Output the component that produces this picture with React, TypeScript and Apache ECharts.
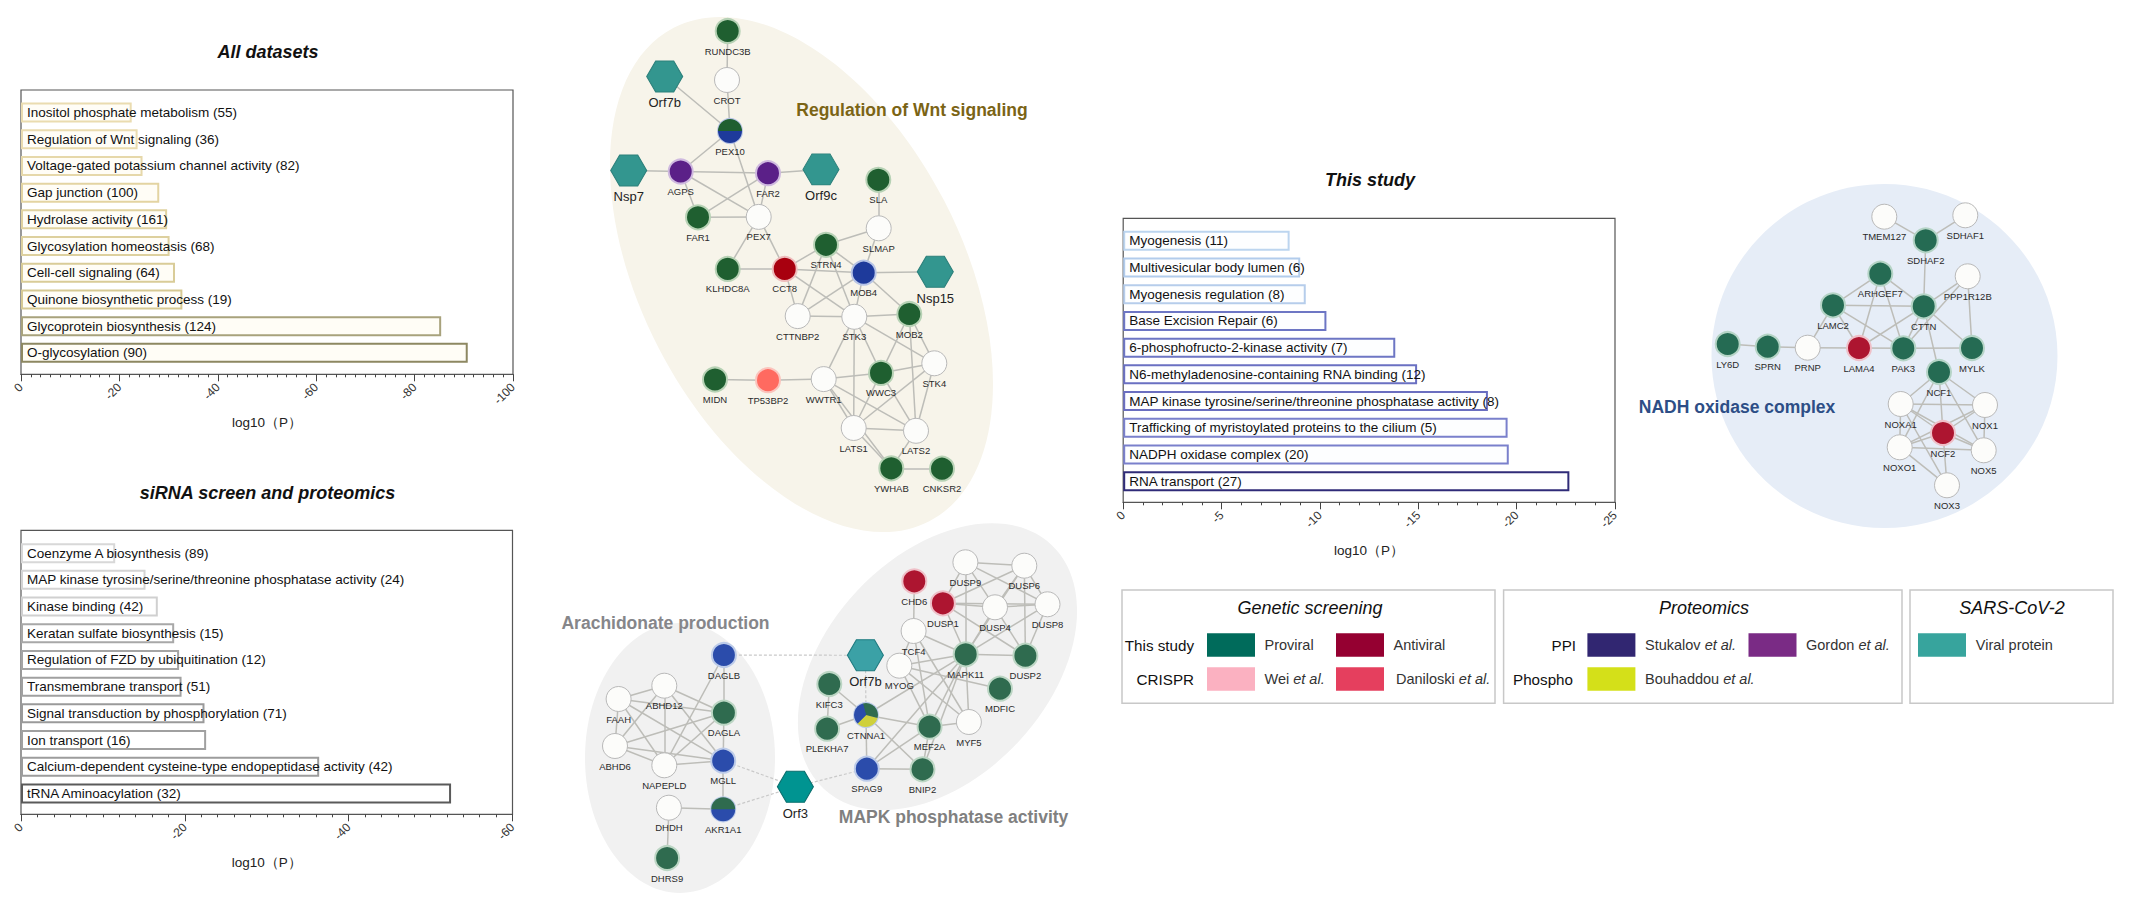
import React, { useEffect, useRef } from "react";
import * as echarts from "echarts";

const FONT = "'Liberation Sans', Arial, sans-serif";

const allCategories = ["Inositol phosphate metabolism (55)", "Regulation of Wnt signaling (36)", "Voltage-gated potassium channel activity (82)", "Gap junction (100)", "Hydrolase activity (161)", "Glycosylation homeostasis (68)", "Cell-cell signaling (64)", "Quinone biosynthetic process (19)", "Glycoprotein biosynthesis (124)", "O-glycosylation (90)"];
const allValues = [-22.5, -23.7, -24.7, -28.1, -29.7, -30.2, -31.3, -32.8, -85.4, -90.8];
const sirnaCategories = ["Coenzyme A biosynthesis (89)", "MAP kinase tyrosine/serine/threonine phosphatase activity (24)", "Kinase binding (42)", "Keratan sulfate biosynthesis (15)", "Regulation of FZD by ubiquitination (12)", "Transmembrane transport (51)", "Signal transduction by phosphorylation (71)", "Ion transport (16)", "Calcium-dependent cysteine-type endopeptidase activity (42)", "tRNA Aminoacylation (32)"];
const sirnaValues = [-11.5, -15.2, -16.7, -18.7, -19.3, -19.6, -22.4, -22.6, -36.4, -52.5];
const studyCategories = ["Myogenesis (11)", "Multivesicular body lumen (6)", "Myogenesis regulation (8)", "Base Excision Repair (6)", "6-phosphofructo-2-kinase activity (7)", "N6-methyladenosine-containing RNA binding (12)", "MAP kinase tyrosine/serine/threonine phosphatase activity (8)", "Trafficking of myristoylated proteins to the cilium (5)", "NADPH oxidase complex (20)", "RNA transport (27)"];
const studyValues = [-8.46, -9.0, -9.28, -10.33, -13.83, -14.94, -18.54, -19.54, -19.6, -22.68];

const allBorders = ["#eadcb0", "#eadcb0", "#e6d8aa", "#e3d4a2", "#e0d2a0", "#ddd09e", "#d9cc98", "#d6c994", "#a8a27c", "#8d8862"];
const sirnaBorders = ["#d8d8d8", "#d4d4d4", "#d0d0d0", "#a8a8a8", "#a4a4a4", "#a0a0a0", "#9a9a9a", "#a0a0a0", "#9c9c9c", "#5a5a5a"];
const studyBorders = ["#bcd5ef", "#b2ccec", "#b6cdeb", "#6d76c4", "#6d76c4", "#6a70c2", "#6a6ec0", "#7a80cc", "#7a80cc", "#2f2b78"];

type Node = [string, number, number, string];

const wntNodes: Node[] = [
  ["RUNDC3B", 727.7, 31, "green"], ["CROT", 727, 80, "none"], ["PEX10", 730, 131, "mixBG"], ["Orf7b", 664.7, 76.5, "viral"], ["Nsp7", 628.7, 170.5, "viral"],
  ["AGPS", 680.7, 171.5, "purple"], ["FAR2", 768, 173.2, "purple"], ["Orf9c", 821, 169.4, "viral"], ["SLA", 878.3, 179.8, "green"], ["FAR1", 698, 217.3, "green"],
  ["PEX7", 758.7, 216.9, "none"], ["SLMAP", 878.7, 228.3, "none"], ["STRN4", 826, 244.8, "green"], ["KLHDC8A", 727.7, 268.9, "green"], ["CCT8", 784.7, 268.9, "darkred"],
  ["MOB4", 863.7, 272.7, "blue"], ["Nsp15", 935.3, 271.7, "viral"], ["CTTNBP2", 797.7, 316.1, "none"], ["STK3", 854.3, 316.8, "none"], ["MOB2", 909.3, 314, "green"],
  ["STK4", 934.3, 363.3, "none"], ["WWC3", 881, 372.9, "green"], ["WWTR1", 823.7, 379.1, "none"], ["TP53BP2", 768, 380.2, "salmon"], ["MIDN", 715, 379.5, "green"],
  ["LATS1", 853.7, 428, "none"], ["LATS2", 916, 430.8, "none"], ["YWHAB", 891.3, 468.3, "green"], ["CNKSR2", 942, 468.7, "green"],
];
const wntEdges = ["RUNDC3B-CROT", "CROT-PEX10", "Orf7b-PEX10", "PEX10-AGPS", "PEX10-PEX7", "Nsp7-AGPS", "AGPS-FAR2", "AGPS-FAR1", "AGPS-PEX7", "FAR2-Orf9c", "FAR2-FAR1", "FAR2-PEX7", "FAR1-PEX7", "PEX7-KLHDC8A", "PEX7-CCT8", "SLA-SLMAP", "SLMAP-STRN4", "SLMAP-MOB4", "STRN4-CCT8", "STRN4-MOB4", "STRN4-CTTNBP2", "STRN4-STK3", "KLHDC8A-CCT8", "CCT8-MOB4", "CCT8-CTTNBP2", "CCT8-STK3", "MOB4-Nsp15", "MOB4-CTTNBP2", "MOB4-STK3", "MOB4-MOB2", "CTTNBP2-STK3", "STK3-MOB2", "STK3-STK4", "STK3-WWC3", "STK3-WWTR1", "STK3-LATS1", "MOB2-WWC3", "MOB2-STK4", "MOB2-LATS2", "STK4-WWC3", "STK4-LATS1", "STK4-LATS2", "WWC3-WWTR1", "WWC3-LATS1", "WWC3-LATS2", "WWTR1-TP53BP2", "TP53BP2-MIDN", "WWTR1-LATS1", "WWTR1-LATS2", "WWTR1-YWHAB", "LATS1-LATS2", "LATS1-YWHAB", "LATS2-YWHAB", "YWHAB-CNKSR2"];

const lowerNodes: Node[] = [
  ["DAGLB", 723.9, 655, "blue2"], ["DAGLA", 723.9, 712.7, "green2"], ["MGLL", 723.2, 760.7, "blue2"], ["AKR1A1", 723.2, 809.3, "mixBG2"], ["DHDH", 668.9, 807.7, "none"],
  ["DHRS9", 667.1, 858, "green2"], ["NAPEPLD", 664.3, 765.3, "none"], ["ABHD12", 664.3, 685.7, "none"], ["FAAH", 618.6, 699, "none"], ["ABHD6", 615, 746, "none"],
  ["Orf3", 795.4, 786.7, "viralB"], ["Orf7b", 865.4, 655.3, "viralC"], ["KIFC3", 829.3, 684, "green2"], ["PLEKHA7", 827.1, 728.7, "green2"], ["CTNNA1", 866, 715, "mixTri"],
  ["SPAG9", 866.8, 768.7, "blue2"], ["BNIP2", 922.5, 769.3, "green2"], ["MEF2A", 929.6, 726.7, "green2"], ["MYF5", 968.9, 722, "none"], ["MDFIC", 1000, 688.7, "green2"],
  ["MYOG", 899.3, 665.7, "none"], ["TCF4", 913.6, 631, "none"], ["MAPK11", 965.7, 654.3, "green2"], ["DUSP2", 1025.4, 655.7, "green2"], ["CHD6", 914.3, 581.3, "red2"],
  ["DUSP1", 942.9, 603.3, "red2"], ["DUSP9", 965.4, 562.3, "none"], ["DUSP6", 1024.3, 565.7, "none"], ["DUSP4", 995, 607.3, "none"], ["DUSP8", 1047.5, 604.3, "none"],
];
const lowerDashedEdges = ["DAGLB-Orf7b", "Orf7b-CTNNA1", "MGLL-Orf3", "AKR1A1-Orf3", "Orf3-SPAG9"];
const lowerEdges = ["DAGLB-DAGLA", "DAGLB-NAPEPLD", "DAGLA-MGLL", "MGLL-AKR1A1", "AKR1A1-DHDH", "DHDH-DHRS9", "DAGLA-ABHD12", "DAGLA-FAAH", "DAGLA-ABHD6", "DAGLA-NAPEPLD", "MGLL-ABHD12", "MGLL-ABHD6", "MGLL-NAPEPLD", "MGLL-FAAH", "ABHD12-FAAH", "ABHD12-ABHD6", "ABHD12-NAPEPLD", "FAAH-ABHD6", "FAAH-NAPEPLD", "ABHD6-NAPEPLD", "KIFC3-PLEKHA7", "KIFC3-CTNNA1", "PLEKHA7-CTNNA1", "CTNNA1-SPAG9", "CTNNA1-MEF2A", "CTNNA1-BNIP2", "CTNNA1-MAPK11", "SPAG9-BNIP2", "SPAG9-MAPK11", "SPAG9-MEF2A", "BNIP2-MEF2A", "BNIP2-MAPK11", "MEF2A-MAPK11", "MEF2A-MYF5", "MEF2A-TCF4", "MEF2A-MYOG", "MYOG-TCF4", "MYOG-MAPK11", "MYOG-MYF5", "MYOG-MDFIC", "TCF4-MAPK11", "TCF4-MYF5", "CHD6-TCF4", "MAPK11-MYF5", "MAPK11-DUSP2", "MAPK11-DUSP1", "MAPK11-DUSP9", "MAPK11-DUSP4", "MAPK11-DUSP8", "MAPK11-DUSP6", "DUSP1-DUSP9", "DUSP1-DUSP6", "DUSP1-DUSP4", "DUSP1-DUSP8", "DUSP1-DUSP2", "DUSP9-DUSP6", "DUSP9-DUSP4", "DUSP9-DUSP8", "DUSP6-DUSP4", "DUSP6-DUSP8", "DUSP6-DUSP2", "DUSP4-DUSP8", "DUSP4-DUSP2", "DUSP8-DUSP2"];

const nadhNodes: Node[] = [
  ["TMEM127", 1884.3, 216.7, "none"], ["SDHAF1", 1965.3, 215.3, "none"], ["SDHAF2", 1925.7, 240.3, "green3"], ["ARHGEF7", 1880.3, 273.7, "green3"], ["PPP1R12B", 1967.7, 276.3, "none"],
  ["LAMC2", 1833, 305.3, "green3"], ["CTTN", 1923.7, 306.3, "green3"], ["LY6D", 1727.7, 344, "green3"], ["SPRN", 1767.7, 346.7, "green3"], ["PRNP", 1807.7, 347.7, "none"],
  ["LAMA4", 1859, 348, "red2"], ["PAK3", 1903.3, 348.3, "green3"], ["MYLK", 1972, 348, "green3"], ["NCF1", 1939, 372, "green3"], ["NOXA1", 1900.7, 404, "none"],
  ["NOX1", 1985, 405, "none"], ["NCF2", 1943, 433, "red2"], ["NOXO1", 1899.7, 447.3, "none"], ["NOX5", 1983.7, 450.3, "none"], ["NOX3", 1947, 485.3, "none"],
];
const nadhEdges = ["TMEM127-SDHAF2", "SDHAF1-SDHAF2", "SDHAF2-CTTN", "ARHGEF7-LAMC2", "ARHGEF7-CTTN", "ARHGEF7-LAMA4", "ARHGEF7-PAK3", "LAMC2-CTTN", "LAMC2-PRNP", "LAMC2-LAMA4", "LAMC2-PAK3", "CTTN-PPP1R12B", "PPP1R12B-MYLK", "PPP1R12B-PAK3", "CTTN-LAMA4", "CTTN-PAK3", "CTTN-MYLK", "CTTN-NCF1", "LY6D-SPRN", "SPRN-PRNP", "PRNP-LAMA4", "LAMA4-PAK3", "PAK3-MYLK", "NCF1-NOXA1", "NCF1-NOX1", "NCF1-NCF2", "NCF1-NOXO1", "NCF1-NOX5", "NOXA1-NOX1", "NOXA1-NCF2", "NOXA1-NOXO1", "NOXA1-NOX5", "NOXA1-NOX3", "NOX1-NCF2", "NOX1-NOXO1", "NOX1-NOX5", "NCF2-NOXO1", "NCF2-NOX5", "NCF2-NOX3", "NOXO1-NOX5", "NOXO1-NOX3"];

// Pie slices of the nodes that carry several datasets (clockwise from the start angle).
const pex10Slices: [string, number][] = [["blue", 1], ["green", 1]];
const akr1a1Slices: [string, number][] = [["blue2", 1], ["green2", 1]];
const ctnna1Slices: [string, number][] = [["green2", 1], ["yellow", 1], ["blue2", 1]];

const KIND_STYLE: Record<string, { fill: string; ring: string }> = {
  none: { fill: "#fcfcfa", ring: "#b9b9b9" },
  green: { fill: "#1f5f30", ring: "#b7d2b5" },
  green2: { fill: "#2f6b4f", ring: "#bcd6c4" },
  green3: { fill: "#256b53", ring: "#b5d4c6" },
  blue: { fill: "#1e3a9b", ring: "#b7c4e6" },
  blue2: { fill: "#2b4cab", ring: "#bccbe9" },
  purple: { fill: "#5b2088", ring: "#cfb9df" },
  darkred: { fill: "#a8000f", ring: "#eebcbc" },
  red2: { fill: "#ad1530", ring: "#efc0c8" },
  salmon: { fill: "#ff6a60", ring: "#fbc4bd" },
  yellow: { fill: "#cfd03b", ring: "#cfd03b" },
  mixBG: { fill: "#1e3a9b", ring: "#b7c4e6" },
  mixBG2: { fill: "#2b4cab", ring: "#bccbe9" },
  mixTri: { fill: "#2b4cab", ring: "#bccbe9" },
  viral: { fill: "#33968f", ring: "#2c807b" },
  viralB: { fill: "#009491", ring: "#0a6f6e" },
  viralC: { fill: "#3ba1a6", ring: "#1f7b80" },
};

const HEX = "path://M-1,0 L-0.5,-0.866 L0.5,-0.866 L1,0 L0.5,0.866 L-0.5,0.866 Z";

function graphData(nodes: Node[]) {
  return nodes.map(([name, x, y, kind]) => {
    const s = KIND_STYLE[kind];
    const hex = kind.startsWith("viral");
    return {
      name,
      value: [x, y],
      symbol: hex ? HEX : "circle",
      symbolSize: hex ? [36, 31] : kind === "none" ? 25 : 24,
      itemStyle: { color: s.fill, borderColor: s.ring, borderWidth: hex ? 1 : kind === "none" ? 1 : 2 },
      label: hex ? { fontSize: 13, distance: 4, color: "#222" } : undefined,
    };
  });
}

const graphLinks = (edges: string[], dashed = false) =>
  edges.map((e) => {
    const [source, target] = e.split("-");
    return dashed
      ? { source, target, lineStyle: { type: [3, 2] as any, color: "#c9c9c9", width: 1.2 } }
      : { source, target };
  });

function networkSeries(nodes: Node[], links: any[], canvas: number) {
  return {
    type: "graph",
    coordinateSystem: "cartesian2d",
    xAxisIndex: canvas,
    yAxisIndex: canvas,
    layout: "none",
    roam: false,
    silent: true,
    data: graphData(nodes),
    links,
    lineStyle: { color: "#bdbdb8", width: 1.5, opacity: 1, curveness: 0 },
    label: { show: true, position: "bottom", distance: 2, fontSize: 9.5, fontFamily: FONT, color: "#2a2a2a" },
  };
}

function nodePie(nodes: Node[], name: string, slices: [string, number][], startAngle: number) {
  const n = nodes.find((d) => d[0] === name)!;
  return {
    type: "pie",
    silent: true,
    z: 3,
    center: [n[1], n[2]],
    radius: [0, 12],
    startAngle,
    clockwise: true,
    label: { show: false },
    labelLine: { show: false },
    data: slices.map(([kind, v]) => ({ name: kind, value: v, itemStyle: { color: KIND_STYLE[kind].fill } })),
  };
}

const panels = [
  { title: "All datasets", tx: 268, ty: 52.3, l: 21, r: 513, t: 90, b: 374.3, bt: 99.2, cats: allCategories, vals: allValues, borders: allBorders, fill: "#fffdf6", min: -100, step: 20, minor: 10 },
  { title: "siRNA screen and proteomics", tx: 267.5, ty: 492.7, l: 21, r: 512.5, t: 530.3, b: 814.3, bt: 539.8, cats: sirnaCategories, vals: sirnaValues, borders: sirnaBorders, fill: "#ffffff", min: -60, step: 20, minor: 10 },
  { title: "This study", tx: 1370, ty: 180, l: 1123.2, r: 1615, t: 218.3, b: 502.3, bt: 227.5, cats: studyCategories, vals: studyValues, borders: studyBorders, fill: "#fdfeff", min: -25, step: 5, minor: 5 },
];

const ellipses = [
  { x: 801.5, y: 274.5, rx: 277.8, ry: 160.6, deg: -62.6, fill: "#f7f4ea" },
  { x: 680, y: 758, rx: 95, ry: 135, deg: 0, fill: "#f1f1f1" },
  { x: 937.5, y: 666.7, rx: 166.9, ry: 110.5, deg: 47, fill: "#f1f1f1" },
  { x: 1884.5, y: 356, rx: 173, ry: 172, deg: 0, fill: "#e6edf7" },
];

const clusterLabels = [
  { text: "Regulation of Wnt signaling", x: 912, y: 109.5, fill: "#7b6415" },
  { text: "Arachidonate production", x: 665.5, y: 622.7, fill: "#86868a" },
  { text: "MAPK phosphatase activity", x: 953.6, y: 817.3, fill: "#808080" },
  { text: "NADH oxidase complex", x: 1737, y: 407, fill: "#2d4e86" },
];

const legendBoxes = [
  { x: 1122, w: 373, title: "Genetic screening", cx: 1310 },
  { x: 1503.6, w: 398.4, title: "Proteomics", cx: 1704 },
  { x: 1910, w: 203, title: "SARS-CoV-2", cx: 2012 },
];
const ROW1 = 645;
const ROW2 = 679;
const legendHeads = [
  { t: "This study", x: 1194, y: ROW1 }, { t: "CRISPR", x: 1194, y: ROW2 },
  { t: "PPI", x: 1576, y: ROW1 }, { t: "Phospho", x: 1573, y: ROW2 },
];
const legendItems = [
  { name: "Proviral", etal: false, color: "#006b5b", sx: 1207, tx: 1264.5, y: ROW1 },
  { name: "Antiviral", etal: false, color: "#950031", sx: 1336, tx: 1393.6, y: ROW1 },
  { name: "Wei", etal: true, color: "#fbb1c1", sx: 1207, tx: 1264.5, y: ROW2 },
  { name: "Daniloski", etal: true, color: "#e53f5e", sx: 1336, tx: 1396, y: ROW2 },
  { name: "Stukalov", etal: true, color: "#312671", sx: 1587.4, tx: 1645, y: ROW1 },
  { name: "Gordon", etal: true, color: "#7a2b85", sx: 1748.5, tx: 1806, y: ROW1 },
  { name: "Bouhaddou", etal: true, color: "#d4e019", sx: 1587.4, tx: 1645, y: ROW2 },
  { name: "Viral protein", etal: false, color: "#37a49d", sx: 1918, tx: 1975.8, y: ROW1 },
];

function buildOption() {
  const W = 2137;
  const H = 897;
  const grid: any[] = [];
  const xAxis: any[] = [];
  const yAxis: any[] = [];
  const series: any[] = [];

  panels.forEach((p) => {
    grid.push({ left: p.l, top: p.t, width: p.r - p.l, height: p.b - p.t, show: true, borderColor: "#555", borderWidth: 1.2, backgroundColor: "transparent" });
    xAxis.push({
      gridIndex: grid.length - 1, type: "value", inverse: true, min: p.min, max: 0, interval: p.step, position: "bottom",
      name: "log10（P）", nameLocation: "middle", nameGap: 41,
      nameTextStyle: { fontSize: 13.5, color: "#222", fontFamily: FONT },
      axisLine: { show: true, lineStyle: { color: "#555", width: 1.2 } },
      axisTick: { show: true, length: 7, lineStyle: { color: "#444", width: 1 } },
      minorTick: { show: true, splitNumber: p.minor, length: 3, lineStyle: { color: "#444", width: 1 } },
      axisLabel: { rotate: 45, fontSize: 12, color: "#333", fontFamily: FONT, margin: 11 },
      splitLine: { show: false },
    });
    yAxis.push({ gridIndex: grid.length - 1, type: "value", show: false, min: 0, max: 1 });
  });

  panels.forEach((p) => {
    grid.push({ left: p.l, top: p.bt, width: p.r - p.l, height: 267 });
    const idx = grid.length - 1;
    xAxis.push({ gridIndex: idx, type: "value", inverse: true, min: p.min, max: 0, interval: p.step, show: false, splitLine: { show: false } });
    yAxis.push({
      gridIndex: idx, type: "category", inverse: true, data: p.cats, z: 5,
      axisLine: { show: false }, axisTick: { show: false },
      axisLabel: { inside: true, interval: 0, margin: 6, fontSize: 13.5, color: "#111", fontFamily: FONT },
    });
    series.push({
      type: "bar", xAxisIndex: idx, yAxisIndex: idx, barWidth: 20, silent: true,
      data: p.vals.map((v, i) => ({ value: v, itemStyle: { color: p.fill, borderColor: p.borders[i], borderWidth: 2 } })),
    });
  });

  grid.push({ left: 0, top: 0, width: W, height: H });
  const canvas = grid.length - 1;
  xAxis.push({ gridIndex: canvas, type: "value", min: 0, max: W, show: false });
  yAxis.push({ gridIndex: canvas, type: "value", min: 0, max: H, inverse: true, show: false });

  series.push(networkSeries(wntNodes, graphLinks(wntEdges), canvas));
  series.push(networkSeries(lowerNodes, [...graphLinks(lowerEdges), ...graphLinks(lowerDashedEdges, true)], canvas));
  series.push(networkSeries(nadhNodes, graphLinks(nadhEdges), canvas));
  series.push(nodePie(wntNodes, "PEX10", pex10Slices, 0));
  series.push(nodePie(lowerNodes, "AKR1A1", akr1a1Slices, 0));
  series.push(nodePie(lowerNodes, "CTNNA1", ctnna1Slices, 105));

  const graphic: any[] = [];
  ellipses.forEach((e) => {
    graphic.push({ type: "ellipse", x: e.x, y: e.y, rotation: (e.deg * Math.PI) / 180, shape: { cx: 0, cy: 0, rx: e.rx, ry: e.ry }, style: { fill: e.fill }, silent: true, z: -10 });
  });
  clusterLabels.forEach((c) => {
    graphic.push({ type: "text", x: c.x, y: c.y, z: 20, silent: true, style: { text: c.text, fill: c.fill, font: `bold 17.5px ${FONT}`, textAlign: "center", textVerticalAlign: "middle" } });
  });
  legendBoxes.forEach((b) => {
    graphic.push({ type: "rect", silent: true, shape: { x: b.x, y: 590, width: b.w, height: 113.3 }, style: { fill: "#fff", stroke: "#c8c8c8", lineWidth: 1.5 } });
    graphic.push({ type: "text", silent: true, x: b.cx, y: 608.3, style: { text: b.title, fill: "#111", font: `italic 18px ${FONT}`, textAlign: "center", textVerticalAlign: "middle" } });
  });
  legendHeads.forEach((h) => {
    graphic.push({ type: "text", silent: true, x: h.x, y: h.y, style: { text: h.t, fill: "#111", font: `15.2px ${FONT}`, textAlign: "right", textVerticalAlign: "middle" } });
  });
  legendItems.forEach((it) => {
    graphic.push({ type: "rect", silent: true, shape: { x: it.sx, y: it.y - 11.7, width: 48, height: 23.4 }, style: { fill: it.color } });
    graphic.push({
      type: "text", silent: true, x: it.tx, y: it.y,
      style: {
        text: it.etal ? `{n|${it.name} }{i|et al.}` : it.name,
        fill: "#333", font: `14.5px ${FONT}`, textAlign: "left", textVerticalAlign: "middle",
        rich: { n: { font: `14.5px ${FONT}`, fill: "#333" }, i: { font: `italic 14.5px ${FONT}`, fill: "#333" } },
      },
    });
  });

  return {
    animation: false,
    backgroundColor: "#ffffff",
    title: panels.map((p) => ({
      text: p.title, left: p.tx, top: p.ty, padding: 0, textAlign: "center", textVerticalAlign: "middle",
      textStyle: { fontSize: 18, fontWeight: "bold", fontStyle: "italic", fontFamily: FONT, color: "#111" },
    })),
    grid, xAxis, yAxis, series, graphic,
  };
}

export default function App() {
  const ref = useRef<HTMLDivElement>(null);
  useEffect(() => {
    document.body.style.margin = "0";
    const chart = echarts.init(ref.current!, undefined, { renderer: "svg" });
    chart.setOption(buildOption() as any);
    return () => chart.dispose();
  }, []);
  return <div ref={ref} style={{ width: 2137, height: 897 }} />;
}
